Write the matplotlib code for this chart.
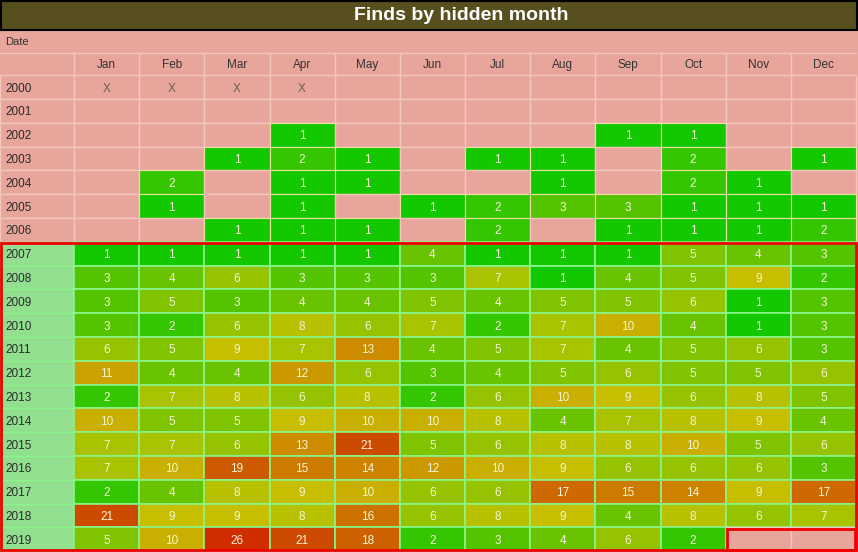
import matplotlib
matplotlib.use("Agg")
import matplotlib.pyplot as plt
from matplotlib.patches import Rectangle
from matplotlib.colors import LinearSegmentedColormap, Normalize

plt.rcParams['font.family'] = ['Liberation Sans', 'DejaVu Sans']

title = "Finds by hidden month"
months = ["Jan", "Feb", "Mar", "Apr", "May", "Jun",
          "Jul", "Aug", "Sep", "Oct", "Nov", "Dec"]
years = list(range(2000, 2020))
n = None
counts = [
    [n, n, n, n, n, n, n, n, n, n, n, n],          # 2000
    [n, n, n, n, n, n, n, n, n, n, n, n],          # 2001
    [n, n, n, 1, n, n, n, n, 1, 1, n, n],          # 2002
    [n, n, 1, 2, 1, n, 1, 1, n, 2, n, 1],          # 2003
    [n, 2, n, 1, 1, n, n, 1, n, 2, 1, n],          # 2004
    [n, 1, n, 1, n, 1, 2, 3, 3, 1, 1, 1],          # 2005
    [n, n, 1, 1, 1, n, 2, n, 1, 1, 1, 2],          # 2006
    [1, 1, 1, 1, 1, 4, 1, 1, 1, 5, 4, 3],          # 2007
    [3, 4, 6, 3, 3, 3, 7, 1, 4, 5, 9, 2],          # 2008
    [3, 5, 3, 4, 4, 5, 4, 5, 5, 6, 1, 3],          # 2009
    [3, 2, 6, 8, 6, 7, 2, 7, 10, 4, 1, 3],         # 2010
    [6, 5, 9, 7, 13, 4, 5, 7, 4, 5, 6, 3],         # 2011
    [11, 4, 4, 12, 6, 3, 4, 5, 6, 5, 5, 6],        # 2012
    [2, 7, 8, 6, 8, 2, 6, 10, 9, 6, 8, 5],         # 2013
    [10, 5, 5, 9, 10, 10, 8, 4, 7, 8, 9, 4],       # 2014
    [7, 7, 6, 13, 21, 5, 6, 8, 8, 10, 5, 6],       # 2015
    [7, 10, 19, 15, 14, 12, 10, 9, 6, 6, 6, 3],    # 2016
    [2, 4, 8, 9, 10, 6, 6, 17, 15, 14, 9, 17],     # 2017
    [21, 9, 9, 8, 16, 6, 8, 9, 4, 8, 6, 7],        # 2018
    [5, 10, 26, 21, 18, 2, 3, 4, 6, 2, n, n],      # 2019
]
x_marked = {2000: ["Jan", "Feb", "Mar", "Apr"]}
highlight_from = 2007

# colours
pink = "#e8a59c"
pink_line = "#f3c6bc"
green_line = "#8af58a"
label_green = "#92e08f"
title_bg = "#574f1e"
red = "#ee0000"
anchors = [(1, "#14c800"), (3, "#55c300"), (5, "#82c300"), (7, "#aac300"),
           (9, "#c8be00"), (10, "#c8af00"), (13, "#cd8c00"), (17, "#cd6900"),
           (21, "#cd4b00"), (26, "#d02d00")]
vmin, vmax = anchors[0][0], anchors[-1][0]
cmap = LinearSegmentedColormap.from_list(
    "finds", [((v - vmin) / (vmax - vmin), c) for v, c in anchors])
norm = Normalize(vmin, vmax)

# layout (pixels)
W, H = 858, 552
label_w = 74
col_w = (856 - label_w) / len(months)
row_top = 75.2
row_h = 23.8
fs = 8.5

fig = plt.figure(figsize=(W / 100, H / 100), dpi=100, facecolor=pink)
ax = fig.add_axes([0, 0, 1, 1])
ax.set_xlim(0, W)
ax.set_ylim(H, 0)
ax.axis("off")

# title bar
ax.add_patch(Rectangle((1, 1), W - 2, 28.5, facecolor=title_bg,
                       edgecolor="black", lw=1.5))
ax.text(461, 15.5, title, color="white", fontsize=14, fontweight="bold",
        ha="center", va="center")

# "Date" row and header
ax.text(5, 41, "Date", fontsize=8, color="#333333", va="center_baseline")
ax.plot([0, 856], [52.5, 52.5], color=pink_line, lw=1)
for j, m in enumerate(months):
    cx = label_w + (j + 0.5) * col_w
    ax.text(cx, 63.5, m, fontsize=fs, color="#333333",
            ha="center", va="center_baseline")
    ax.plot([label_w + j * col_w] * 2, [52.5, row_top], color=pink_line, lw=1)

# data rows
for i, yr in enumerate(years):
    y0 = row_top + i * row_h
    cy = y0 + row_h / 2
    lower = yr >= highlight_from
    line = green_line if lower else pink_line
    ax.add_patch(Rectangle((0, y0), label_w, row_h,
                           facecolor=label_green if lower else pink,
                           edgecolor=line, lw=1))
    ax.text(5, cy, str(yr), fontsize=fs, color="#2a2a2a",
            va="center_baseline")
    for j, v in enumerate(counts[i]):
        x0 = label_w + j * col_w
        if v is None:
            ax.add_patch(Rectangle((x0, y0), col_w, row_h, facecolor=pink,
                                   edgecolor=pink_line, lw=1))
            if months[j] in x_marked.get(yr, []):
                ax.text(x0 + col_w / 2, cy, "X", fontsize=fs,
                        color="#6e5a58", ha="center", va="center_baseline")
            continue
        ax.add_patch(Rectangle((x0, y0), col_w, row_h,
                               facecolor=cmap(norm(v)),
                               edgecolor=line if lower else "#f0e0a8",
                               lw=1.2 if lower else 0.8))
        ax.text(x0 + col_w / 2, cy, str(v), fontsize=fs,
                color="#f4f4d6", ha="center", va="center_baseline")

# red frame round the recent years
k = years.index(highlight_from)
ax.add_patch(Rectangle((1, row_top + k * row_h + 1.5), 855,
                       (len(years) - k) * row_h - 2.5,
                       fill=False, edgecolor=red, lw=2))

# red box round the months still to come
last = counts[-1]
missing = [j for j, v in enumerate(last) if v is None]
if missing:
    y0 = row_top + (len(years) - 1) * row_h
    ax.add_patch(Rectangle((label_w + missing[0] * col_w + 1, y0 + 1.5),
                           len(missing) * col_w - 2, row_h - 2.5,
                           fill=False, edgecolor=red, lw=2))

fig.savefig("out.png", dpi=100, facecolor=pink)
